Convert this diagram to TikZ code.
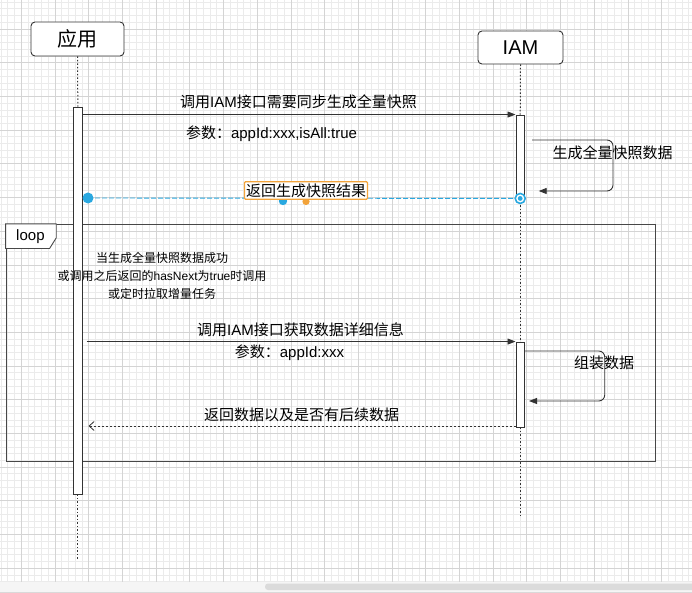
\documentclass[tikz,border=0pt]{standalone}
\usepackage{fontspec}
\setmainfont{Liberation Sans}
\newfontfamily\cjk{Noto Sans CJK SC}
\usetikzlibrary{arrows.meta,calc}
\definecolor{minorg}{HTML}{EBEBEB}
\definecolor{majorg}{HTML}{D4D4D4}
\definecolor{ln}{HTML}{333333}
\definecolor{selblue}{HTML}{29A8E0}
\definecolor{selorange}{HTML}{F2A33A}
\tikzset{
 actor/.style={draw=ln, line width=0.9pt, rounded corners=4pt, fill=white, font=\fontsize{20}{24}\selectfont, inner sep=0pt},
 actbar/.style={draw=ln, line width=0.9pt, fill=white, minimum width=8.5pt, inner sep=0pt},
 life/.style={draw=ln, line width=1pt, dash pattern=on 1.5pt off 2pt},
 msg/.style={draw=ln, line width=0.9pt, -{Triangle[length=8pt,width=6pt]}},
 retmsg/.style={draw=ln, line width=0.8pt, dash pattern=on 2pt off 2pt, -{Straight Barb[length=5pt,width=9pt]}},
 lbl/.style={font=\fontsize{15}{18}\selectfont, inner sep=0pt},
 smalltxt/.style={font=\fontsize{12}{18}\selectfont, align=center, inner sep=0pt},
}
\begin{document}
\begin{tikzpicture}[x=1pt,y=-1pt]
\useasboundingbox (0,0) rectangle (692,593);
\fill[white] (0,0) rectangle (692,593);
% grid
\foreach \i in {0,...,102} \draw[minorg, line width=0.5pt] ({1.0+\i*6.74},0) -- ({1.0+\i*6.74},582);
\foreach \j in {0,...,86} \draw[minorg, line width=0.5pt] (0,{1.94+\j*6.74}) -- (692,{1.94+\j*6.74});
\foreach \i in {0,...,19} \draw[majorg, line width=0.6pt] ({21.2+\i*33.7},0) -- ({21.2+\i*33.7},582);
\foreach \j in {0,...,16} \draw[majorg, line width=0.6pt] (0,{28.9+\j*33.7}) -- (692,{28.9+\j*33.7});
% bottom strip with scrollbar
\fill[white!96!black] (0,582) rectangle (692,593);
\fill[white!86!black, rounded corners=3pt] (265,583.5) rectangle (695,590);
\draw[white!85!black, line width=0.6pt] (0,592) -- (692,592);

% actors
\node[actor, minimum width=93pt, minimum height=34pt] (app) at (77.5,39) {\cjk 应用};
\node[actor, minimum width=85pt, minimum height=33pt] (iam) at (520.5,47.5) {IAM};

% activation bars
\node[actbar, minimum height=387pt] (a1) at (77.85,300.5) {};
\node[actbar, minimum height=83pt] (i1) at (520.2,156.5) {};
\node[actbar, minimum height=85pt] (i2) at (520.2,384.5) {};
\coordinate (append) at (77.85,559);
\coordinate (iamend) at (520.2,517);

% lifelines
\draw[life] (app.south) -- (a1.north);
\draw[life] (a1.south) -- (append);
\draw[life] (iam.south) -- (i1.north);
\draw[life] (i1.south) -- (i2.north);
\draw[life] (i2.south) -- (iamend);

% loop frame
\node[draw=ln!90, line width=0.9pt, minimum width=649pt, minimum height=236.7pt, inner sep=0pt] (loop) at (330.5,342.65) {};
\draw[draw=ln!90, line width=0.9pt, fill=white] (loop.north west) -- ($(loop.north west)+(50.7,0)$) -- ($(loop.north west)+(50.7,14)$) -- ($(loop.north west)+(44,24.7)$) -- ($(loop.north west)+(0,24.7)$) -- cycle;
\node[lbl, anchor=west] (looplbl) at ($(loop.north west)+(10.5,12.5)$) {loop};

% redraw bars above frame
\node[actbar, minimum height=387pt] at (a1) {};
\node[actbar, minimum height=85pt] at (i2) {};

% message 1
\draw[msg] (a1.east |- i1.north) -- (i1.north west);
\node[lbl] (m1lbl) at (298.5,102) {{\cjk 调用}IAM{\cjk 接口需要同步生成全量快照}};
\node[lbl] (m1par) at (271.5,134) {{\cjk 参数：}appId:xxx,isAll:true};

% self message 1
\coordinate (s1a) at (532,140);
\coordinate (s1b) at (538.7,191);
\draw[msg, rounded corners=6pt] (s1a) -- ++(81,0) |- (s1b);
\node[lbl] (s1lbl) at (612.7,152.5) {\cjk 生成全量快照数据};

% return 1 (selected)
\node[circle, fill=selblue, minimum size=11pt, inner sep=0pt] (dotL) at (88,198) {};
\draw[selblue, line width=0.9pt, dash pattern=on 5pt off 2pt] (i1.south) -- (dotL);
\fill[selblue] (283,201) circle (4.2pt);
\fill[selorange] (306,201.5) circle (3.6pt);
\node[lbl, draw=selorange, fill=white, line width=1.1pt, rounded corners=1pt, inner xsep=1.5pt, inner ysep=1.8pt] (r1lbl) at (306,190.5) {\cjk 返回生成快照结果};
\node[circle, draw=selblue, line width=1.6pt, fill=white, minimum size=10pt, inner sep=0pt] (dotR) at (i1.south) {};
\fill[selblue] (dotR) circle (2.4pt);

% loop text
\node[smalltxt] (cond) at (162,276) {{\cjk 当生成全量快照数据成功}\\{\cjk 或调用之后返回的}hasNext{\cjk 为}true{\cjk 时调用}\\{\cjk 或定时拉取增量任务}};

% message 2
\draw[msg] ([xshift=4pt]a1.east |- i2.north) -- (i2.north west);
\node[lbl] (m2lbl) at (300.5,330) {{\cjk 调用}IAM{\cjk 接口获取数据详细信息}};
\node[lbl] (m2par) at (289.5,353) {{\cjk 参数：}appId:xxx};

% self message 2
\coordinate (s2a) at (525,351);
\coordinate (s2b) at (529,401);
\draw[msg, rounded corners=6pt] (s2a) -- ++(79.7,0) |- (s2b);
\node[lbl] (s2lbl) at (604,362.5) {\cjk 组装数据};

% return 2
\draw[retmsg] (i2.west |- 0,426) -- ([xshift=6pt]a1.east |- 0,426);
\node[lbl] (r2lbl) at (301.5,415) {\cjk 返回数据以及是否有后续数据};
\end{tikzpicture}
\end{document}
